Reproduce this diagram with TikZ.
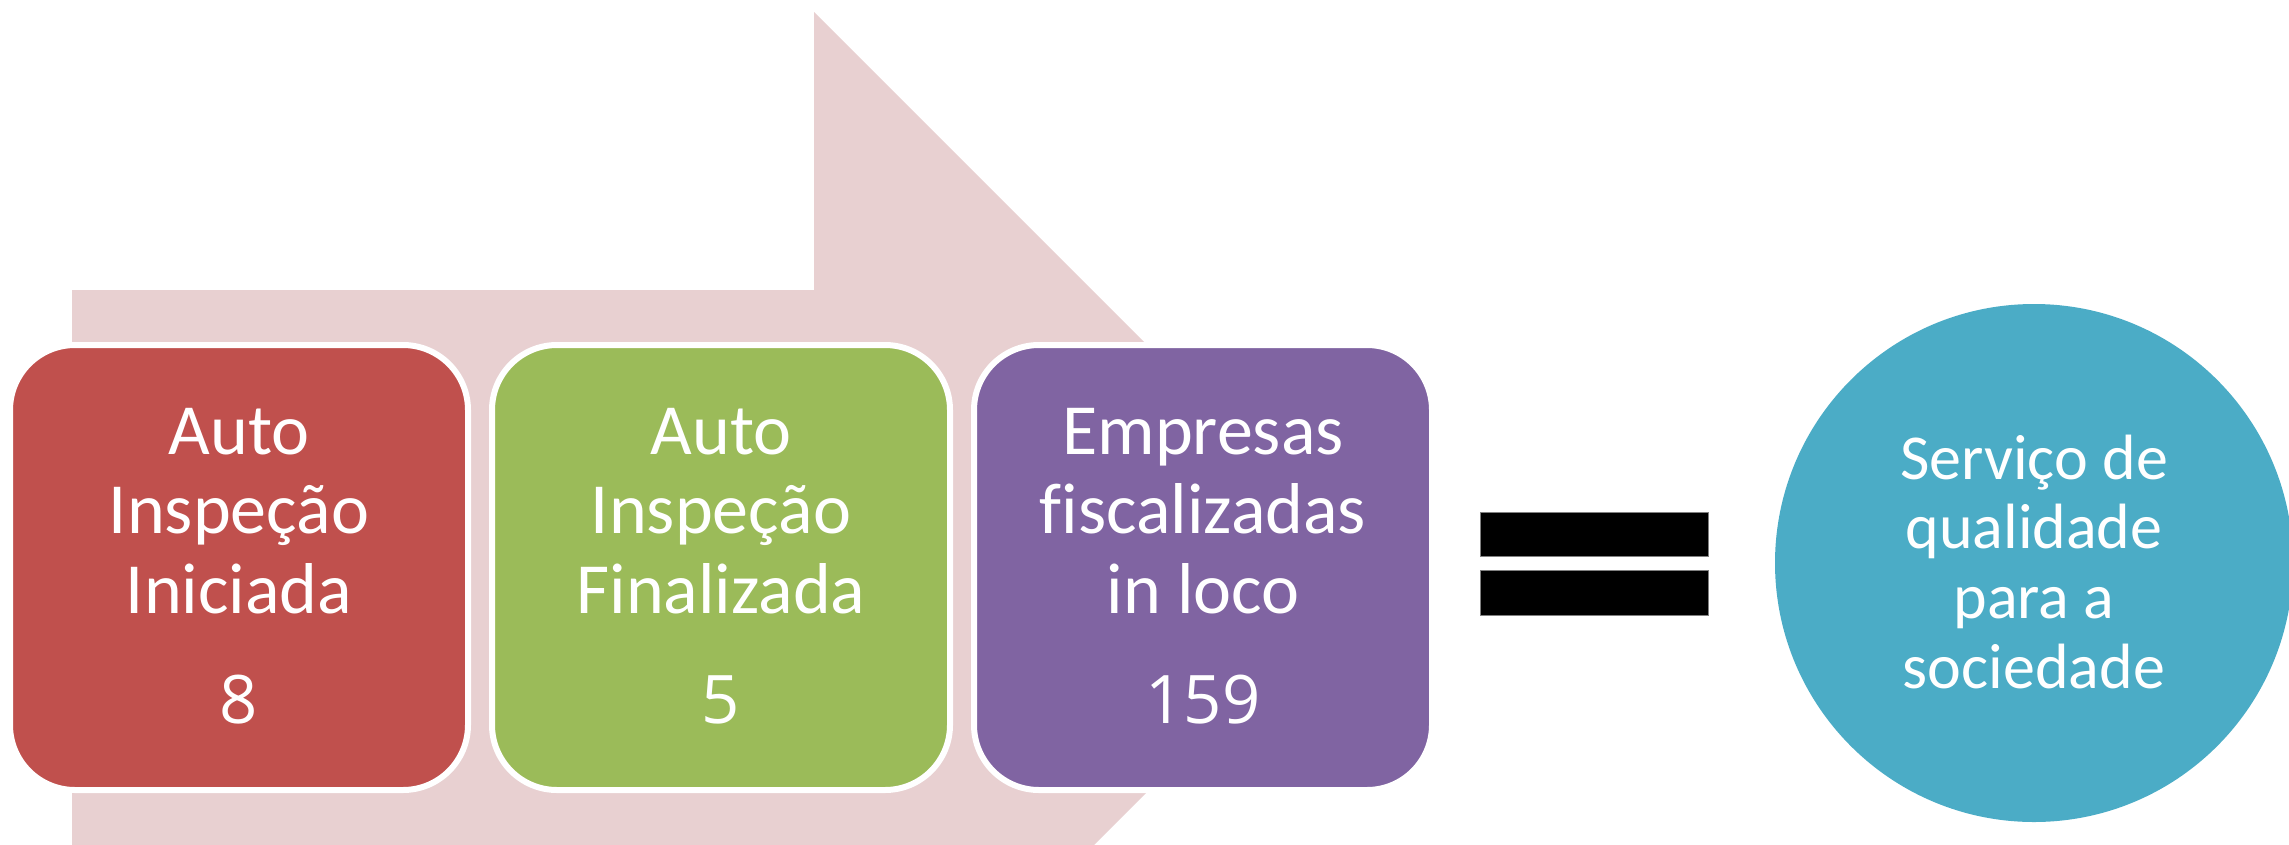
\documentclass[tikz,border=0pt]{standalone}
\usepackage{fontspec}
\setmainfont{Carlito}[Ligatures=NoCommon]
\newfontfamily\digitfont{Open Sans}[Scale=0.93, Numbers=Lining]
\definecolor{arrowpink}{HTML}{E8D0D1}
\definecolor{boxred}{HTML}{C0504D}
\definecolor{boxgreen}{HTML}{9BBB59}
\definecolor{boxpurple}{HTML}{8064A2}
\definecolor{circblue}{HTML}{4BACC6}
\tikzset{
  procbox/.style={draw=white, line width=6pt, rounded corners=65pt, minimum width=458pt, minimum height=445pt, inner sep=0pt},
  boxtext/.style={text=white, anchor=base, inner sep=0pt},
  eqbar/.style={fill=black, draw=gray, line width=0.8pt},
}
\begin{document}
\begin{tikzpicture}[x=1pt,y=-1pt]
\useasboundingbox (0,0) rectangle (2289,844);
\clip (0,0) rectangle (2289,844);
% background bent arrow
\fill[arrowpink] (72,290) -- (814,290) -- (814,12) -- (1370.5,568.5) -- (814,1125) -- (814,847) -- (72,847) -- cycle;
% process boxes
\node[procbox, fill=boxred] (b1) at (239,567.5) {};
\node[procbox, fill=boxgreen] (b2) at (721,567.5) {};
\node[procbox, fill=boxpurple] (b3) at (1203,567.5) {};
\node[boxtext] (t1) at (239,454) {\parbox[t]{440pt}{\centering\fontsize{72}{79.5}\selectfont Auto\\Inspeção\\Iniciada\\[30.5pt]{\digitfont 8}}};
\node[boxtext] (t2) at (721,454) {\parbox[t]{440pt}{\centering\fontsize{72}{79.5}\selectfont Auto\\Inspeção\\Finalizada\\[30.5pt]{\digitfont 5}}};
\node[boxtext] (t3) at (1203,454) {\parbox[t]{440pt}{\centering\fontsize{72}{79.5}\selectfont Empresas\\fiscalizadas\\in loco\\[30.5pt]{\digitfont 159}}};
% equals sign
\draw[eqbar] (1480.5,512) rectangle (1708,556);
\draw[eqbar] (1480.5,570) rectangle (1708,615);
% result circle
\node[circle, fill=circblue, minimum size=518pt, inner sep=0pt] (c) at (2034,563) {};
\node[boxtext] (ct) at (2034,479) {\parbox[t]{500pt}{\centering\fontsize{64}{69.7}\selectfont Serviço de\\qualidade\\para a\\sociedade}};
\end{tikzpicture}
\end{document}
